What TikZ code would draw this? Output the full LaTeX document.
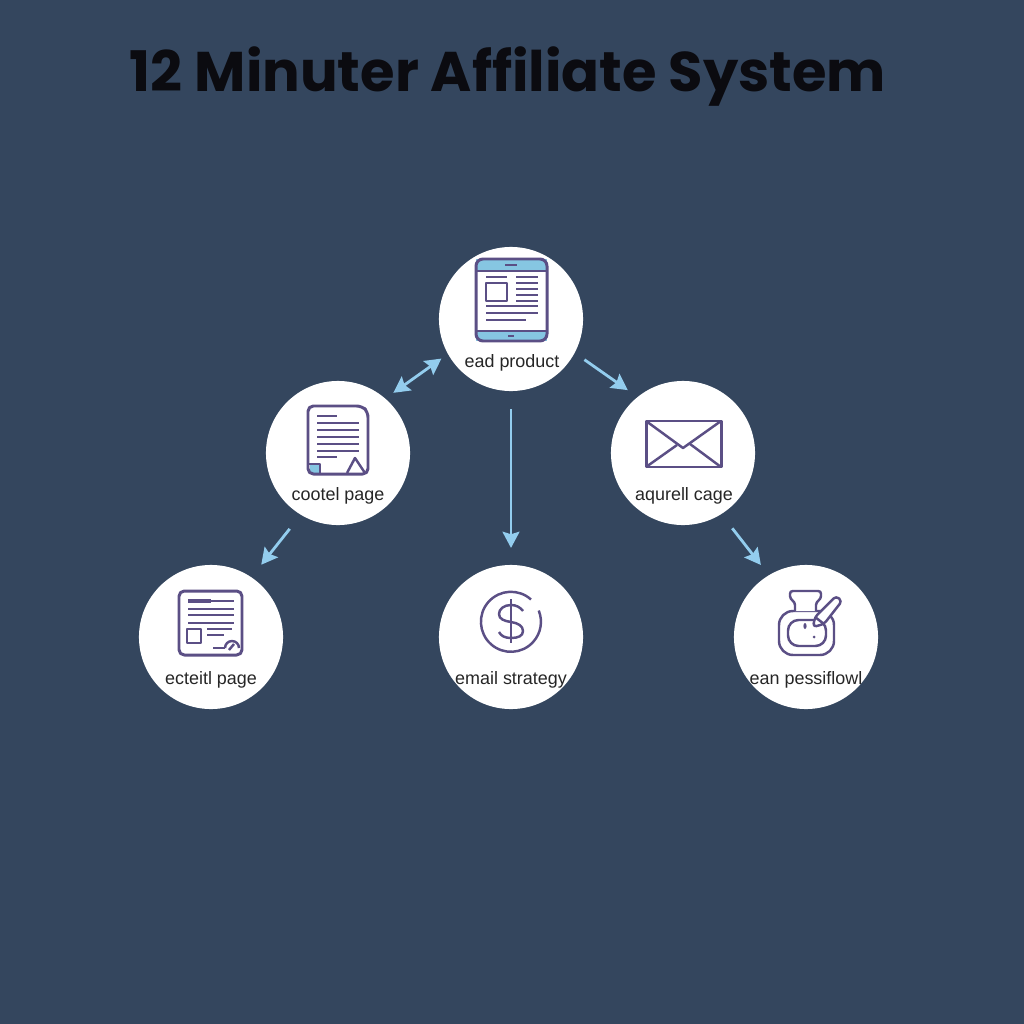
\documentclass[tikz,border=0pt]{standalone}
\usepackage{fontspec}
\setmainfont{Liberation Sans}
\newfontfamily\titlefont{Poppins}
\usetikzlibrary{arrows.meta}
\definecolor{bgblue}{HTML}{34465E}
\definecolor{iconline}{HTML}{5B4F85}
\definecolor{iconblue}{HTML}{86C6E2}
\definecolor{linkblue}{HTML}{93CDEE}
\tikzset{
  disc/.style={circle,fill=white,minimum size=1.44cm,inner sep=0pt,outer sep=0pt},
  caption/.style={font=\fontsize{5.1}{6}\selectfont,text=black!85,inner sep=0pt},
  link/.style={draw=linkblue,line width=.8pt,-{Stealth[length=4.6pt,width=4.8pt,inset=.7pt]}},
  twolink/.style={link,{Stealth[length=4.6pt,width=4.8pt,inset=.7pt]}-{Stealth[length=4.6pt,width=4.8pt,inset=.7pt]}},
  icon/.style={shift={(#1.center)},draw=iconline,line width=.7pt,line join=round},
  outline/.style={line width=.85pt},
  thin line/.style={draw=iconline,line width=.7pt}
}
\begin{document}
\begin{tikzpicture}[x=.01cm,y=-.01cm]
    \useasboundingbox (0,0) rectangle (1024,1024);
    \fill [bgblue] (0,0) rectangle (1024,1024);
    \node (title) at (508,77) {\titlefont\fontsize{15.9}{20}\selectfont\bfseries\color[HTML]{0B0B10}12 Minuter Affiliate System};

    \node [disc] (main) at (511,319) {};
    \node [disc] (cotel) at (338,453) {};
    \node [disc] (aqur) at (683,453) {};
    \node [disc] (ectl) at (211,637) {};
    \node [disc] (strat) at (511,637) {};
    \node [disc] (flow) at (806,637) {};

    \node [caption] (mainl) at (512,363) {ead product};
    \node [caption] (cotell) at (338,496) {cootel page};
    \node [caption] (aqurl) at (684,496) {aqurell cage};
    \node [caption] (ectll) at (211,680) {ecteitl page};
    \node [caption] (stratl) at (511,680) {email strategy};
    \node [caption] (flowl) at (806,680) {ean pessiflowl};

    \draw [twolink,shorten <=.08cm,shorten >=.1cm] (main.209) to (cotel.49);
    \draw [link,shorten <=.12cm,shorten >=.12cm] (main.-28) to (aqur.129);
    \draw [link,shorten <=.18cm,shorten >=.17cm] (main.south) to (strat.north);
    \draw [link,shorten <=.18cm,shorten >=.16cm] (cotel.239) to (ectl.56);
    \draw [link,shorten <=.18cm,shorten >=.13cm] (aqur.-58) to (flow.121);

    % tablet
    \begin{scope}[icon=main]
      \fill [iconblue] (-35,-60) rectangle (36,-48);
      \fill [iconblue] (-35,12) rectangle (36,22);
      \draw [outline,rounded corners=2pt] (-35,-60) rectangle (36,22);
      \draw (-35,-48) -- (36,-48) (-35,12) -- (36,12);
      \draw (-6,-54) -- (6,-54) (-3,17) -- (3,17);
      \draw (-25,-36) rectangle (-4,-18);
      \draw (-25,-42) -- (-4,-42);
      \foreach \y in {-42,-36,-30,-24,-18} \draw (5,\y) -- (27,\y);
      \draw (-25,-13) -- (27,-13) (-25,-6) -- (27,-6) (-25,1) -- (15,1);
    \end{scope}

    % page with corner
    \begin{scope}[icon=cotel]
      \fill [iconblue] (-28,11) rectangle (-18,20);
      \draw [outline,rounded corners=1.5pt] (-30,-47) -- (24,-47) -- (30,-41) -- (30,21) -- (-30,21) -- cycle;
      \draw (-21,-37) -- (-1,-37);
      \foreach \y in {-30,-23,-16,-9,-2} \draw (-21,\y) -- (21,\y);
      \draw (-21,4) -- (-1,4);
      \draw (-29,11) -- (-18,11) -- (-18,20);
      \draw (9,20) -- (17,5) -- (27,20);
    \end{scope}

    % envelope
    \begin{scope}[icon=aqur]
      \draw [outline] (-37,-32) rectangle (38,14);
      \draw (-37,-32) -- (0,-5) -- (38,-32);
      \draw (-37,14) -- (-6,-8) (38,14) -- (7,-9);
    \end{scope}

    % sheet with gauge
    \begin{scope}[icon=ectl]
      \draw [outline,rounded corners=1.5pt] (-32,-46) rectangle (31,18);
      \draw [line width=1pt] (-23,-36) -- (0,-36);
      \foreach \y in {-36,-28,-22,-14} \draw (-23,\y) -- (23,\y);
      \draw (-24,-8) rectangle (-10,6);
      \draw (-4,-8) -- (21,-8) (-4,-2) -- (13,-2);
      \draw (2,11) -- (14,11);
      \draw (14,11) arc (180:360:7);
      \draw (18,13) -- (23,7);
    \end{scope}

    % coin
    \begin{scope}[icon=strat]
      \draw [thin line] (20,-37.5) arc (-48:-382:30);
      \draw [thin line] (0,-38) -- (0,6);
      \draw [thin line] (12,-26) .. controls (9,-30) and (5,-32) .. (0,-32)
        .. controls (-7,-32) and (-12,-28) .. (-12,-23)
        .. controls (-12,-18) and (-7,-16) .. (0,-15)
        .. controls (7,-14) and (12,-11) .. (12,-6)
        .. controls (12,-1) and (7,1) .. (0,1)
        .. controls (-6,1) and (-10,-1) .. (-12,-5);
    \end{scope}

    % ink pot
    \begin{scope}[icon=flow]
      \draw [rounded corners=4pt] (-27,-26) rectangle (28,18);
      \draw [rounded corners=3pt] (-18,-17) rectangle (20,9);
      \draw [fill=white] (-11,-26) -- (-11,-32) .. controls (-11,-36) and (-16,-37) .. (-16,-41) -- (-16,-43) .. controls (-16,-45) and (-15,-46) .. (-13,-46) -- (12,-46) .. controls (14,-46) and (15,-45) .. (15,-43) -- (15,-41) .. controls (15,-37) and (10,-36) .. (10,-32) -- (10,-26);
      \draw [fill=white,rounded corners=1pt] (7,-10) -- (9,-20) -- (30,-41) -- (36,-36) -- (18,-13) -- cycle;
      \draw (9,-20) -- (18,-13);
      \fill [iconline] (-1,-11) ellipse (1.6 and 3);
      \fill [iconline] (8,0) circle (1.5);
    \end{scope}
  \end{tikzpicture}
\end{document}
